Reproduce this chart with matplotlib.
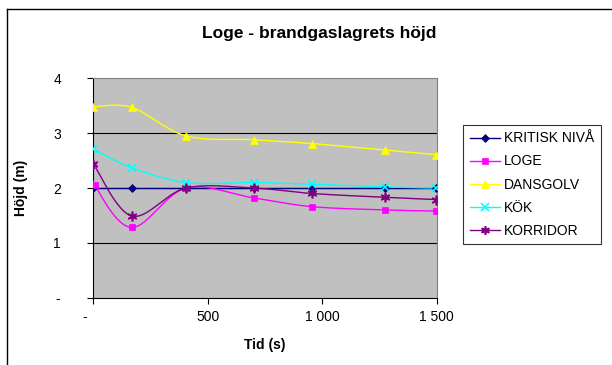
# Loge - brandgaslagrets höjd, Excel style line chart with smoothed lines
import numpy as np
import matplotlib
matplotlib.use("Agg")
import matplotlib.pyplot as plt
from matplotlib.lines import Line2D

plt.rcParams['font.family'] = ['Liberation Sans', 'DejaVu Sans']

t_kritisk = [0, 168, 405, 700, 955, 1275, 1495]
h_kritisk = [2.0, 2.0, 2.0, 2.0, 2.0, 2.0, 2.0]

t_loge = [0, 6, 168, 405, 700, 955, 1275, 1495]
h_loge = [2.42, 2.06, 1.28, 2.0, 1.82, 1.66, 1.60, 1.58]

t_dans = [0, 168, 405, 700, 955, 1275, 1495]
h_dans = [3.48, 3.47, 2.95, 2.88, 2.81, 2.69, 2.61]

t_kok = [0, 168, 405, 700, 955, 1275, 1495]
h_kok = [2.71, 2.37, 2.10, 2.10, 2.07, 2.02, 2.0]

t_korr = [0, 168, 405, 700, 955, 1275, 1495]
h_korr = [2.44, 1.49, 2.0, 2.0, 1.90, 1.83, 1.79]

names = ["KRITISK NIVÅ", "LOGE", "DANSGOLV", "KÖK", "KORRIDOR"]
colors = ["#000080", "#FF00FF", "#FFFF00", "#00FFFF", "#800080"]
markers = ["D", "s", "^", "x", (6, 2, 0)]
msizes = [4, 5, 6, 6, 7]


def smooth(x, y, n=30):
    # Catmull-Rom style bezier, like Excel "smoothed line"
    x = np.asarray(x, float)
    y = np.asarray(y, float)
    px = np.concatenate(([x[0]], x, [x[-1]]))
    py = np.concatenate(([y[0]], y, [y[-1]]))
    xs, ys = [], []
    s = np.linspace(0, 1, n)
    for i in range(1, len(px) - 2):
        p0 = np.array([px[i - 1], py[i - 1]])
        p1 = np.array([px[i], py[i]])
        p2 = np.array([px[i + 1], py[i + 1]])
        p3 = np.array([px[i + 2], py[i + 2]])
        c1 = p1 + (p2 - p0) / 6
        c2 = p2 - (p3 - p1) / 6
        b = ((1 - s) ** 3)[:, None] * p1 + (3 * (1 - s) ** 2 * s)[:, None] * c1 \
            + (3 * (1 - s) * s ** 2)[:, None] * c2 + (s ** 3)[:, None] * p2
        xs.extend(b[:, 0])
        ys.extend(b[:, 1])
    return xs, ys


fig = plt.figure(figsize=(6.12, 3.65), dpi=100)
ax = fig.add_axes([0.1525, 0.1844, 0.5611, 0.601])
ax.set_facecolor("#C0C0C0")

series = [(t_kritisk, h_kritisk), (t_loge, h_loge), (t_dans, h_dans),
          (t_kok, h_kok), (t_korr, h_korr)]

for (t, h), c, m, ms in zip(series, colors, markers, msizes):
    sx, sy = smooth(t, h)
    ax.plot(sx, sy, color=c, lw=1, zorder=3)
    ax.plot(t, h, ls="none", marker=m, color=c, markersize=ms,
            markeredgewidth=1.2 if m in ("x", (6, 2, 0)) else 0.5, zorder=4)

ax.set_xlim(0, 1500)
ax.set_ylim(0, 4)
ax.set_xticks([0, 500, 1000, 1500])
ax.set_xticklabels(["-    ", "500", "1 000", "1 500"])
ax.set_yticks([0, 1, 2, 3, 4])
ax.set_yticklabels(["-", "1", "2", "3", "4"])
for y in [1, 2, 3]:
    ax.axhline(y, color="black", lw=0.8, zorder=1)

ax.tick_params(direction="out", length=4, width=0.8, labelsize=10)
ax.tick_params(axis="x", pad=5)
ax.tick_params(axis="y", pad=22)
for lab in ax.get_yticklabels():
    lab.set_horizontalalignment("center")
for side in ["top", "right"]:
    ax.spines[side].set_color("#808080")
for side in ["left", "bottom"]:
    ax.spines[side].set_color("black")

ax.set_xlabel("Tid (s)", fontsize=10, fontweight="bold", labelpad=10)
ax.set_ylabel("Höjd (m)", fontsize=10, fontweight="bold", labelpad=18)
fig.text(0.522, 0.907, "Loge - brandgaslagrets höjd", ha="center", va="center",
         fontsize=12.5, fontweight="bold")

handles = [Line2D([0], [0], color=c, marker=m, markersize=ms * 0.9, lw=1,
                  markeredgewidth=1.2 if m in ("x", (6, 2, 0)) else 0.5)
           for c, m, ms in zip(colors, markers, msizes)]
leg = fig.legend(handles, names, loc="upper left", bbox_to_anchor=(0.757, 0.657),
                 fontsize=10, frameon=True, fancybox=False, edgecolor="black",
                 handlelength=2.2, handletextpad=0.3, labelspacing=0.65,
                 borderpad=0.45, borderaxespad=0)
leg.get_frame().set_linewidth(0.8)

# outer chart border (extends beyond the picture on right and bottom)
fig.add_artist(Line2D([7 / 612, 7 / 612], [0, 1 - 9 / 365], color="black", lw=1,
                      transform=fig.transFigure))
fig.add_artist(Line2D([7 / 612, 1], [1 - 9 / 365, 1 - 9 / 365], color="black", lw=1,
                      transform=fig.transFigure))

fig.savefig("out.png", dpi=100)
